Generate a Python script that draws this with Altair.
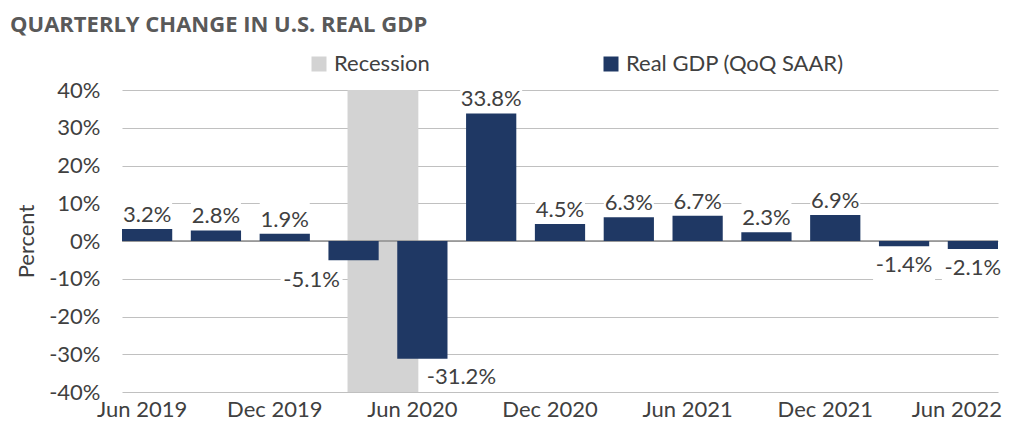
import altair as alt
import pandas as pd

# ---- data ----
quarters = ["Jun 2019", "Sep 2019", "Dec 2019", "Mar 2020", "Jun 2020", "Sep 2020",
            "Dec 2020", "Mar 2021", "Jun 2021", "Sep 2021", "Dec 2021", "Mar 2022", "Jun 2022"]
gdp = [3.2, 2.8, 1.9, -5.1, -31.2, 33.8, 4.5, 6.3, 6.7, 2.3, 6.9, -1.4, -2.1]
series_gdp = "Real GDP (QoQ SAAR)"
series_rec = "Recession"
rec_start = ["Mar 2020"]
rec_end = ["Jun 2020"]
y_ticks = [-40, -30, -20, -10, 0, 10, 20, 30, 40]
x_ticks = ["Jun 2019", "Dec 2019", "Jun 2020", "Dec 2020", "Jun 2021", "Dec 2021", "Jun 2022"]
title_text = "QUARTERLY CHANGE IN U.S. REAL GDP"

df = pd.DataFrame({"quarter": quarters, "gdp": gdp, "series": series_gdp})
rec = pd.DataFrame({"start": rec_start, "end": rec_end, "series": series_rec,
                    "top": [max(y_ticks)], "bottom": [min(y_ticks)]})
zero = pd.DataFrame({"gdp": [0]})

FONT = "Lato"
TXT = "#404040"
NAVY = "#1f3864"
GREY = "#d3d3d3"

xscale = alt.Scale(domain=quarters, paddingInner=0.27, paddingOuter=0)
xaxis = alt.Axis(values=x_ticks, labelAngle=0,
                 labelOffset={"condition": [{"test": "datum.label == 'Jun 2019'", "value": -5},
                                            {"test": "datum.label == 'Jun 2022'", "value": -16}],
                              "value": -10},
                 ticks=False, domain=False,
                 grid=False, labelPadding=7, labelFont=FONT, labelFontSize=22,
                 labelColor=TXT, labelFlush=False)
yscale = alt.Scale(domain=[min(y_ticks), max(y_ticks)], nice=False, zero=False)
yaxis = alt.Axis(values=y_ticks, labelExpr="datum.value + '%'", ticks=False, domain=False,
                 grid=True, gridColor="#c0c0c0", gridWidth=1.2, labelPadding=22,
                 labelFont=FONT, labelFontSize=22, labelColor=TXT,
                 titleFont=FONT, titleFontSize=22, titleFontWeight="normal",
                 titleColor=TXT, titlePadding=10)


def X(field, **kw):
    return alt.X(field, scale=xscale, axis=xaxis, title=None, **kw)


def Y(field):
    return alt.Y(field, scale=yscale, axis=yaxis, title="Percent")


color = alt.Color("series:N",
                  scale=alt.Scale(domain=[series_rec, series_gdp], range=[GREY, NAVY]),
                  legend=alt.Legend(title=None, orient="none", legendX=186, legendY=-37,
                                    direction="horizontal", symbolType="square",
                                    symbolSize=225, symbolStrokeWidth=0, symbolOpacity=1,
                                    labelFont=FONT, labelFontSize=22, labelColor=TXT,
                                    labelOffset=4, labelLimit=400, columnPadding=170,
                                    padding=0))

rec_layer = alt.Chart(rec).mark_rect().encode(
    x=X("start:N", bandPosition=0.38),
    x2=alt.X2("end:N", bandPosition=0.42),
    y=Y("top:Q"),
    y2="bottom:Q",
    color=color,
)

zero_layer = alt.Chart(zero).mark_rule(color="#8c8c8c", strokeWidth=1.6).encode(y=Y("gdp:Q"))

bars = alt.Chart(df).mark_bar().encode(
    x=X("quarter:N"),
    y=Y("gdp:Q"),
    color=color,
)

lab = alt.Chart(df).transform_calculate(
    label="(datum.gdp < 0 ? '-' : '') + format(abs(datum.gdp), '.1f') + '%'"
).transform_calculate(
    boxw="length(datum.label) * 12 + 2"
)


def label_layers(filt, box_top, box_bot, text_dy, dx=0):
    src = lab.transform_filter(filt)
    box = src.mark_bar(color="white", yOffset=box_top, y2Offset=box_bot, xOffset=dx).encode(
        x=X("quarter:N"),
        y=Y("gdp:Q"),
        y2="gdp:Q",
        size=alt.Size("boxw:Q", scale=None, legend=None),
    )
    txt = src.mark_text(font=FONT, fontSize=22, color=TXT, baseline="alphabetic",
                        dy=text_dy, dx=dx).encode(
        x=X("quarter:N"),
        y=Y("gdp:Q"),
        text="label:N",
    )
    return [box, txt]


layers = [rec_layer, zero_layer, bars]
layers += label_layers("datum.gdp > 0", -34, -3, -7)
layers += label_layers("datum.gdp < 0 && datum.quarter != 'Mar 2020' && datum.quarter != 'Jun 2020'",
                       3, 34, 26)
layers += label_layers("datum.quarter == 'Mar 2020'", 4, 34, 27, dx=-42)
layers += label_layers("datum.quarter == 'Jun 2020'", 3, 33, 25, dx=39)

chart = alt.layer(*layers).properties(
    width=876,
    height=302,
    autosize=alt.AutoSizeParams(type="none"),
    padding={"left": 114, "top": 82, "right": 4, "bottom": 30},
    title=alt.TitleParams(title_text, anchor="start", frame="group", dx=-112, dy=21,
                          font="Open Sans", fontSize=22, fontWeight="bold",
                          color="#595959", baseline="alphabetic", offset=20),
    background="white",
).configure_view(stroke=None)

chart.save("out.html", embed_options={"renderer": "svg", "actions": False})
